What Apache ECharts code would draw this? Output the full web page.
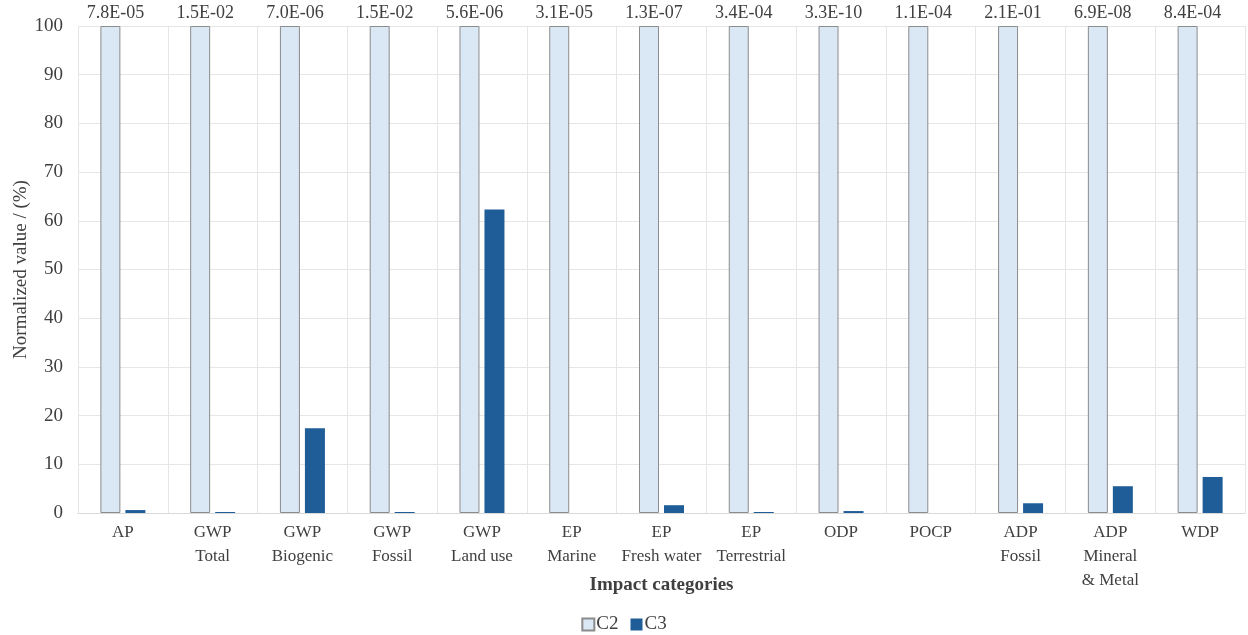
<!DOCTYPE html>
<html>
<head>
<meta charset="utf-8">
<script src="https://cdn.jsdelivr.net/npm/echarts@6/dist/echarts.min.js"></script>
<style>html,body{margin:0;padding:0;background:#fff}#c{width:1248px;height:635px}</style>
</head>
<body>
<div id="c"></div>
<script>
const categories = ["AP","GWP\nTotal","GWP\nBiogenic","GWP\nFossil","GWP\nLand use","EP\nMarine","EP\nFresh water","EP\nTerrestrial","ODP","POCP","ADP\nFossil","ADP\nMineral\n& Metal","WDP"];
const c2Values = [100,100,100,100,100,100,100,100,100,100,100,100,100];
const c3Values = [0.6,0.2,17.4,0.2,62.3,0,1.6,0.2,0.4,0,2.0,5.5,7.4];
const topLabels = ["7.8E-05","1.5E-02","7.0E-06","1.5E-02","5.6E-06","3.1E-05","1.3E-07","3.4E-04","3.3E-10","1.1E-04","2.1E-01","6.9E-08","8.4E-04"];
const yTicks = [0,10,20,30,40,50,60,70,80,90,100];

const font = "Liberation Serif";
const txt = "#404040";
const chart = echarts.init(document.getElementById('c'));
chart.setOption({
  animation:false,
  textStyle:{fontFamily:font,color:txt},
  grid:{left:78,right:3,top:26,bottom:122},
  legend:{
    bottom:-4,left:'center',itemWidth:12,itemHeight:12,itemGap:12,icon:'rect',
    textStyle:{fontFamily:font,fontSize:19,color:txt,padding:[0,0,0,-3]},
    data:['C2','C3']
  },
  xAxis:{
    type:'category',data:categories,
    name:'Impact categories',nameLocation:'middle',nameGap:63,nameMoveOverlap:false,
    nameTextStyle:{fontFamily:font,fontSize:19,fontWeight:'bold',color:txt},
    axisLine:{lineStyle:{color:'#d9d9d9',width:1}},
    axisTick:{show:false},
    splitLine:{show:true,lineStyle:{color:'#e6e6e6',width:1}},
    axisLabel:{fontFamily:font,fontSize:17,color:txt,margin:8,lineHeight:24,interval:0}
  },
  yAxis:{
    type:'value',min:yTicks[0],max:yTicks[yTicks.length-1],interval:10,
    name:'Normalized value / (%)',nameLocation:'middle',nameGap:47,nameMoveOverlap:false,
    nameTextStyle:{fontFamily:font,fontSize:19,color:txt},
    axisLine:{show:false},axisTick:{show:false},
    splitLine:{lineStyle:{color:'#e6e6e6',width:1}},
    axisLabel:{fontFamily:font,fontSize:19,color:txt,margin:15}
  },
  series:[
    {name:'C2',type:'bar',data:c2Values,barWidth:20,barGap:'25%',
     itemStyle:{color:'#dae7f5',borderColor:'#8c8c8c',borderWidth:1},
     label:{show:true,position:'top',distance:4,offset:[5,0],fontFamily:font,fontSize:18,color:txt,
       formatter:p=>topLabels[p.dataIndex]}},
    {name:'C3',type:'bar',data:c3Values,barWidth:20,
     itemStyle:{color:'#1f5d99'}}
  ]
});
</script>
</body>
</html>
